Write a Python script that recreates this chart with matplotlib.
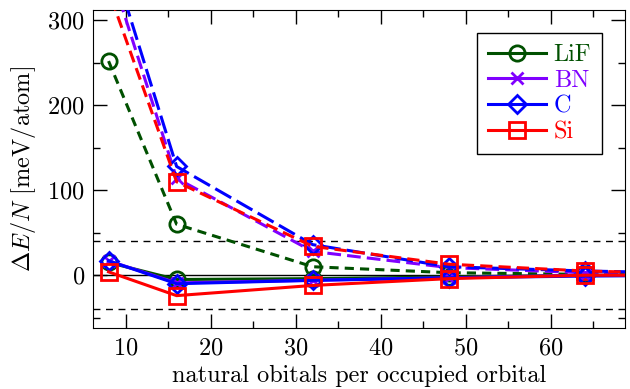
import matplotlib
matplotlib.use('Agg')
import matplotlib.pyplot as plt
from matplotlib.lines import Line2D
from matplotlib.ticker import MultipleLocator

plt.rcParams['font.family'] = 'serif'
plt.rcParams['font.serif'] = ['cmr10']
plt.rcParams['mathtext.fontset'] = 'cm'
plt.rcParams['axes.formatter.use_mathtext'] = True

n_nat = [8, 16, 32, 48, 64, 80]
labels = ['LiF', 'BN', 'C', 'Si']
colors = ['#005000', '#8000ff', '#0000ff', '#ff0000']
markers = ['o', 'x', 'D', 's']

# solid: corrected values, dashed: uncorrected
solid = {
    'LiF': [15, -5, -4, -2, 0, 0],
    'BN': [17, -9, -6, -3, 0, 0],
    'C': [17, -10, -6, -3, -1, 0],
    'Si': [4, -24, -12, -4, 0, 0],
}
dashed = {
    'LiF': [252, 60, 10, 3, 1, 0],
    'BN': [365, 114, 28, 9, 3, 1],
    'C': [385, 128, 36, 10, 5, 2],
    'Si': [335, 110, 34, 13, 5, 1],
}
dash_styles = {
    'LiF': (0, (3, 2)),
    'BN': (0, (4.5, 2)),
    'C': (0, (6, 2)),
    'Si': (0, (4, 2)),
}

fs = 17.5
fig = plt.figure(figsize=(6.3, 3.89), dpi=100)
ax = fig.add_axes([0.148, 0.157, 0.844, 0.817])

ax.axhline(0, color='black', lw=1.0, zorder=1)
ax.axhline(40, color='black', lw=1.0, ls=(0, (5, 4)), zorder=1)
ax.axhline(-40, color='black', lw=1.0, ls=(0, (5, 4)), zorder=1)

handles = []
for i, name in enumerate(labels):
    c = colors[i]
    mk = markers[i]
    ms = {'o': 11, 'x': 8, 'D': 9, 's': 11}[mk]
    ax.plot(n_nat, dashed[name], color=c, lw=2.2, ls=dash_styles[name], marker=mk,
            ms=ms, mfc='none', mec=c, mew=2.0, zorder=2 + i)
    ax.plot(n_nat, solid[name], color=c, lw=2.2, ls='-', marker=mk,
            ms=ms, mfc='none', mec=c, mew=2.0, zorder=6 + i)
    handles.append(Line2D([], [], color=c, lw=2.2, marker=mk, ms=ms, mfc='none', mec=c, mew=2.0, label=name))

ax.set_xlim(6.2, 68.7)
ax.set_ylim(-62, 312)
ax.xaxis.set_major_locator(MultipleLocator(10))
ax.xaxis.set_minor_locator(MultipleLocator(5))
ax.yaxis.set_major_locator(MultipleLocator(100))
ax.yaxis.set_minor_locator(MultipleLocator(50))
ax.tick_params(which='both', direction='in', top=True, right=True, labelsize=fs)
ax.tick_params(which='major', length=10, width=1)
ax.tick_params(which='minor', length=5, width=1)
ax.tick_params(axis='x', pad=7)
ax.tick_params(axis='y', pad=6)

ax.set_xlabel('natural obitals per occupied orbital', fontsize=fs, labelpad=4)
ax.set_ylabel(r'$\Delta E/N$ [meV/atom]', fontsize=fs, labelpad=7)

leg = ax.legend(handles=handles, loc='upper right', bbox_to_anchor=(0.98, 0.966),
                fontsize=fs, labelcolor=colors, frameon=True, fancybox=False,
                edgecolor='black', framealpha=1, handlelength=2.4, labelspacing=0.15,
                handletextpad=0.3, borderpad=0.45)
leg.get_frame().set_linewidth(1.0)

fig.savefig('out.png', dpi=100)
